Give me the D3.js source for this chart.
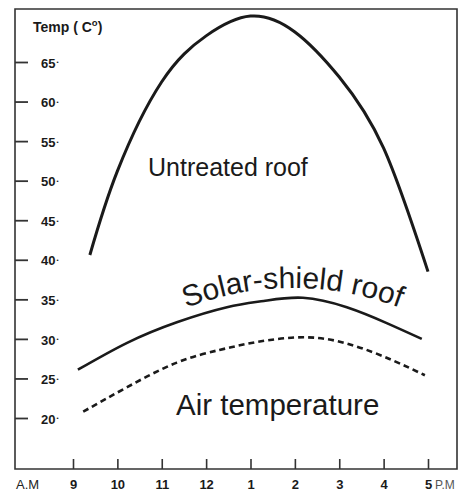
<!DOCTYPE html>
<html><head><meta charset="utf-8">
<script src="https://cdn.jsdelivr.net/npm/d3@7"></script>
<style>
html,body{margin:0;padding:0;background:#fff;}
svg{display:block;font-family:"Liberation Sans",Arial,sans-serif;}
</style></head>
<body><svg id="c" width="459" height="491"></svg>
<script>
// ---- data ----
const xTickValues = [9, 10, 11, 12, 13, 14, 15, 16, 17];
const xTickLabels = ["9", "10", "11", "12", "1", "2", "3", "4", "5"];
const yTickValues = [20, 25, 30, 35, 40, 45, 50, 55, 60, 65];

const untreatedHours = [9.38, 10, 11, 12, 13, 14, 15, 16, 17];
const untreatedTemp  = [40.6, 51.2, 62.5, 68.3, 70.8, 68.8, 63.1, 54.1, 38.5];

const solarHours = [9.11, 10.22, 11.34, 12.47, 13.3, 14.18, 15.17, 16.07, 16.86];
const solarTemp  = [26.1, 29.5, 32.1, 34.0, 34.8, 35.2, 34.0, 32.0, 30.0];

const airHours = [9.23, 10.22, 11.34, 12.3, 13.14, 14.27, 15.3, 16.2, 16.93];
const airTemp  = [20.8, 23.9, 27.0, 28.6, 29.6, 30.2, 29.2, 27.3, 25.4];

// ---- chart ----
const svg = d3.select("#c");
const frame = {left: 15, top: 9, right: 457, bottom: 469};
const x = d3.scaleLinear().domain([9, 17]).range([73, 428]);
const y = d3.scaleLinear().domain([20, 65]).range([418, 62]);
const ink = "#1a1a1a";

// frame
svg.append("path")
  .attr("d", `M${frame.left},${frame.bottom}V${frame.top}H${frame.right}V${frame.bottom}Z`)
  .attr("fill", "none").attr("stroke", "#333").attr("stroke-width", 1.6);

// y axis (ticks pointing inward)
const yAxis = d3.axisRight(y).tickValues(yTickValues).tickSize(13).tickPadding(13)
  .tickFormat(d => d);
const gy = svg.append("g").attr("transform", `translate(${frame.left},0)`).call(yAxis);
gy.select(".domain").remove();
gy.selectAll(".tick line").attr("stroke", "#333").attr("stroke-width", 1.8);
gy.selectAll(".tick text").attr("fill", ink).attr("font-size", 13).attr("font-weight", "bold")
  .attr("dy", "0.4em")
  .each(function(d){
    const t = d3.select(this); t.text(null);
    t.append("tspan").text(d);
    t.append("tspan").attr("dy", "-0.55em").attr("dx", 1).attr("font-size", 6).text("\u2022");
  });

// x axis (ticks pointing up)
const xAxis = d3.axisTop(x).tickValues(xTickValues).tickSize(10)
  .tickFormat((d, i) => xTickLabels[i]);
const gx = svg.append("g").attr("transform", `translate(0,${frame.bottom})`).call(xAxis);
gx.select(".domain").remove();
gx.selectAll(".tick line").attr("stroke", "#333").attr("stroke-width", 1.6);
gx.selectAll(".tick text").attr("fill", ink).attr("font-size", 13).attr("font-weight", "bold")
  .attr("y", 20).attr("dy", 0);

svg.append("text").attr("x", 16).attr("y", 489).attr("font-size", 13).attr("fill", "#222").text("A.M");
svg.append("text").attr("x", 435).attr("y", 489).attr("font-size", 12).attr("fill", "#555").text("P.M");

// title
const title = svg.append("text").attr("x", 33).attr("y", 32).attr("font-size", 14)
  .attr("font-weight", "bold").attr("fill", ink);
title.append("tspan").text("Temp ( C");
title.append("tspan").attr("dy", -6).attr("font-size", 9.5).text("o");
title.append("tspan").attr("dy", 6).text(")");

// lines
const line = d3.line().x(d => x(d[0])).y(d => y(d[1])).curve(d3.curveNatural);
function draw(hours, temps, opts) {
  svg.append("path").datum(d3.zip(hours, temps)).attr("d", line)
    .attr("fill", "none").attr("stroke", ink).attr("stroke-width", opts.w)
    .attr("stroke-dasharray", opts.dash || null).attr("stroke-linecap", "butt");
}
draw(untreatedHours, untreatedTemp, {w: 3});
draw(solarHours, solarTemp, {w: 2.6});
draw(airHours, airTemp, {w: 2.6, dash: "6,4"});

// labels
svg.append("text").attr("x", 148).attr("y", 176).attr("font-size", 25).attr("fill", ink).text("Untreated roof");
svg.append("text").attr("x", 176).attr("y", 415).attr("font-size", 29.5).attr("fill", ink).text("Air temperature");

const p = d3.path();
p.moveTo(186, 308);
p.quadraticCurveTo(300, 265, 416, 314);
svg.append("path").attr("id", "arc").attr("d", p.toString()).attr("fill", "none");
svg.append("text").attr("font-size", 30).attr("fill", ink)
  .append("textPath").attr("href", "#arc").text("Solar-shield roof");
</script></body></html>
